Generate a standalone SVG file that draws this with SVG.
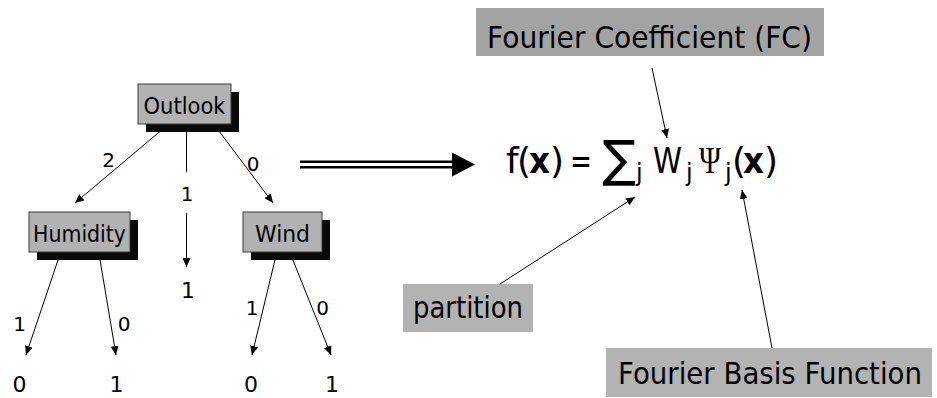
<svg xmlns="http://www.w3.org/2000/svg" width="937" height="398" viewBox="0 0 937 398">
<style>
.t{font-family:"DejaVu Sans",Verdana,sans-serif;fill:#000}
.node{fill:#b2b2b2;stroke:#3a3a3a;stroke-width:1}
.shadow{fill:#0a0a0a}
.lbl{font-size:23px;text-anchor:middle}
.edge{font-size:20px;text-anchor:middle}
.leaf{font-size:22px;text-anchor:middle}
.ln{stroke:#000;stroke-width:1;fill:none}
.arr{marker-end:url(#ah)}
.cap{font-size:31px}
.box{fill:#b3b3b3}
.fm{font-size:36px}
.sub{font-size:24px}
</style>
<defs>
<marker id="ah" markerWidth="10" markerHeight="8" refX="9" refY="4" orient="auto" markerUnits="userSpaceOnUse">
<path d="M0,0 L9,4 L0,8 z" fill="#000"/>
</marker>
</defs>
<rect width="937" height="398" fill="#fff"/>

<g id="connectors">
<line class="ln arr" x1="170" y1="123" x2="75" y2="203"/>
<line class="ln" x1="186.5" y1="124" x2="186.5" y2="172"/>
<line class="ln arr" x1="186.5" y1="213" x2="186.5" y2="267"/>
<line class="ln arr" x1="213" y1="123" x2="273" y2="203"/>
<line class="ln arr" x1="60.7" y1="252" x2="26" y2="355"/>
<line class="ln arr" x1="98.7" y1="252" x2="116" y2="355"/>
<line class="ln arr" x1="276.9" y1="252" x2="252" y2="355"/>
<line class="ln arr" x1="289.7" y1="252" x2="331" y2="355"/>
<line class="ln arr" x1="652" y1="68" x2="667" y2="138"/>
<line class="ln arr" x1="500" y1="284" x2="635" y2="197"/>
<line class="ln arr" x1="772" y1="348" x2="742" y2="190"/>
<g id="double-arrow">
<line x1="300" y1="161.7" x2="454" y2="161.7" stroke="#000" stroke-width="2.4"/>
<line x1="300" y1="167.3" x2="454" y2="167.3" stroke="#000" stroke-width="2.4"/>
<polygon points="452,152.5 475,164.5 452,176.5" fill="#000"/>
</g>
</g>

<g id="outlook">
<rect class="shadow" x="146" y="92" width="93" height="40"/>
<rect class="node" x="138" y="84" width="93" height="40"/>
<text class="t lbl" x="184.5" y="114" textLength="82" lengthAdjust="spacingAndGlyphs">Outlook</text>
</g>
<g id="humidity">
<rect class="shadow" x="37" y="220" width="101" height="40"/>
<rect class="node" x="29" y="212" width="101" height="40"/>
<text class="t lbl" x="79.5" y="242" textLength="93" lengthAdjust="spacingAndGlyphs">Humidity</text>
</g>
<g id="wind">
<rect class="shadow" x="251" y="220" width="79" height="40"/>
<rect class="node" x="243" y="212" width="79" height="40"/>
<text class="t lbl" x="282.5" y="242" textLength="55" lengthAdjust="spacingAndGlyphs">Wind</text>
</g>

<g id="edge-labels">
<text class="t edge" x="108.5" y="167">2</text>
<text class="t edge" x="187" y="201">1</text>
<text class="t edge" x="253" y="171">0</text>
<text class="t edge" x="19.5" y="331">1</text>
<text class="t edge" x="124" y="331">0</text>
<text class="t edge" x="252" y="315">1</text>
<text class="t edge" x="322.5" y="315">0</text>
</g>
<g id="leaves">
<text class="t leaf" x="188" y="298">1</text>
<text class="t leaf" x="19.5" y="392">0</text>
<text class="t leaf" x="116.5" y="392">1</text>
<text class="t leaf" x="251" y="392">0</text>
<text class="t leaf" x="332" y="392">1</text>
</g>

<g id="fc-label">
<rect x="476" y="8" width="348" height="48" fill="#a3a3a3"/>
<text class="t cap" x="487" y="48" textLength="325" lengthAdjust="spacingAndGlyphs">Fourier Coefficient (FC)</text>
</g>
<g id="partition-label">
<rect class="box" x="403" y="284" width="130" height="48"/>
<text class="t cap" x="413" y="318" textLength="110" lengthAdjust="spacingAndGlyphs">partition</text>
</g>
<g id="basis-label">
<rect class="box" x="606" y="348" width="326" height="49"/>
<text class="t cap" x="618" y="384" textLength="304" lengthAdjust="spacingAndGlyphs">Fourier Basis Function</text>
</g>

<g id="formula">
<text class="t fm" y="173"><tspan x="506">f</tspan><tspan x="517">(</tspan><tspan x="529" font-weight="bold" textLength="21" lengthAdjust="spacingAndGlyphs">x</tspan><tspan x="550">)</tspan></text>
<text class="t fm" x="570" y="173" textLength="22" lengthAdjust="spacingAndGlyphs">=</text>
<text class="t" x="602" y="176" font-size="50">∑</text>
<text class="t sub" x="636" y="181">j</text>
<text class="t fm" x="653" y="173" textLength="29" lengthAdjust="spacingAndGlyphs">W</text>
<text class="t sub" x="686" y="181">j</text>
<text x="699" y="173" font-family="'Liberation Serif',serif" font-size="38" textLength="22" lengthAdjust="spacingAndGlyphs">Ψ</text>
<text class="t sub" x="725" y="181">j</text>
<text class="t fm" y="173"><tspan x="732">(</tspan><tspan x="743" font-weight="bold" textLength="21" lengthAdjust="spacingAndGlyphs">x</tspan><tspan x="764">)</tspan></text>
</g>
</svg>
